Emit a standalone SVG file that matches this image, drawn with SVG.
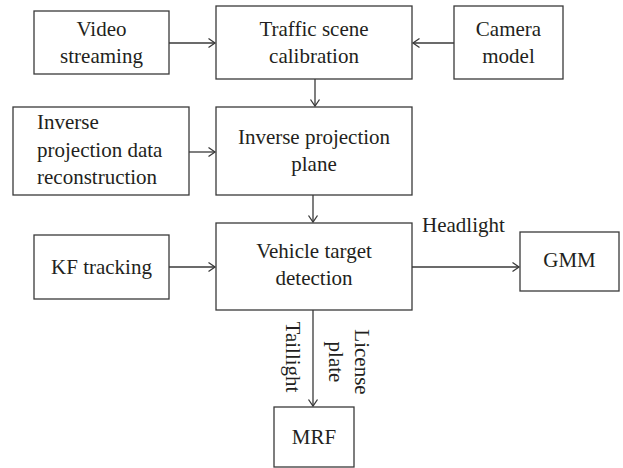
<svg xmlns="http://www.w3.org/2000/svg" width="623" height="468" viewBox="0 0 623 468">
<defs>
<style>
rect.box{fill:#fff;stroke:#3a3a3a;stroke-width:1.3}
text{font-family:'Liberation Serif','Times New Roman','DejaVu Serif',serif;font-size:21px;fill:#231f20}
.c{text-anchor:middle}
line.con{stroke:#3a3a3a;stroke-width:1.3;marker-end:url(#arr)}
</style>
<marker id="arr" markerUnits="userSpaceOnUse" markerWidth="10" markerHeight="12" refX="7" refY="5" orient="auto" viewBox="0 0 10 10">
<path d="M0.5,0.5 L7,5 L0.5,9.5" fill="none" stroke="#3a3a3a" stroke-width="1.3"/>
</marker>
</defs>
<rect width="623" height="468" fill="#fff"/>
<g id="connectors" font-family="Liberation Serif, serif">
<line class="con" x1="169" y1="43" x2="215" y2="43"/>
<line class="con" x1="454" y1="43" x2="413" y2="43"/>
<line class="con" x1="315" y1="79" x2="315" y2="106"/>
<line class="con" x1="189" y1="152" x2="215" y2="152"/>
<line class="con" x1="313" y1="195" x2="313" y2="222"/>
<line class="con" x1="169" y1="267" x2="215" y2="267"/>
<line class="con" x1="412" y1="267" x2="519" y2="267"/>
<line class="con" x1="313" y1="310" x2="313" y2="406"/>
<text x="422" y="232">Headlight</text>
<text class="c" transform="translate(286,357) rotate(90)">Taillight</text>
<text class="c" transform="translate(355,362) rotate(90)">License</text>
<text class="c" transform="translate(329,362) rotate(90)">plate</text>
</g>
<g id="video">
<rect class="box" x="34" y="11" width="135" height="63"/>
<text class="c" x="101.5" y="36">Video</text>
<text class="c" x="101.5" y="63">streaming</text>
</g>
<g id="traffic">
<rect class="box" x="216" y="6" width="196" height="73"/>
<text class="c" x="314" y="36">Traffic scene</text>
<text class="c" x="314" y="63">calibration</text>
</g>
<g id="camera">
<rect class="box" x="454" y="6" width="109" height="73"/>
<text class="c" x="508.5" y="36">Camera</text>
<text class="c" x="508.5" y="63">model</text>
</g>
<g id="invdata">
<rect class="box" x="13" y="107" width="176" height="88"/>
<text x="37" y="129">Inverse</text>
<text x="37" y="157">projection data</text>
<text x="37" y="184">reconstruction</text>
</g>
<g id="invplane">
<rect class="box" x="216" y="107" width="196" height="88"/>
<text class="c" x="314" y="144">Inverse projection</text>
<text class="c" x="314" y="171">plane</text>
</g>
<g id="kf">
<rect class="box" x="34" y="235" width="135" height="64"/>
<text class="c" x="101.5" y="274">KF tracking</text>
</g>
<g id="vtd">
<rect class="box" x="216" y="223" width="196" height="87"/>
<text class="c" x="314" y="258">Vehicle target</text>
<text class="c" x="314" y="285">detection</text>
</g>
<g id="gmm">
<rect class="box" x="520" y="232" width="99" height="59"/>
<text class="c" x="569.5" y="267">GMM</text>
</g>
<g id="mrf">
<rect class="box" x="274" y="407" width="80" height="60"/>
<text class="c" x="314" y="444">MRF</text>
</g>
</svg>
